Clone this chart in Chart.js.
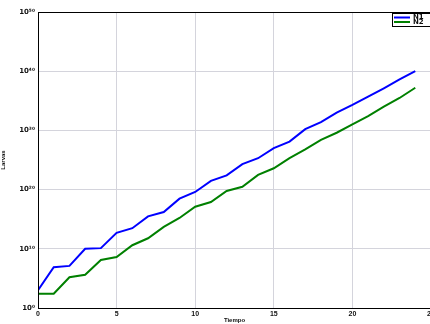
<!DOCTYPE html>
<html>
<head>
<meta charset="utf-8">
<script src="https://cdn.jsdelivr.net/npm/chart.js@4/dist/chart.umd.min.js"></script>
<style>
  html, body { margin: 0; padding: 0; background: #fff; overflow: hidden; }
  #wrap { position: relative; width: 450px; height: 324px; }
</style>
</head>
<body>
<div id="wrap"><canvas id="chart"></canvas></div>
<script>
// time steps and the two series (log axis)
var tiempo = [0, 1, 2, 3, 4, 5, 6, 7, 8, 9, 10, 11, 12, 13, 14, 15, 16, 17, 18, 19, 20, 21, 22, 23, 24];
var serieAzul = [1e3, 8e6, 1.3e7, 1e10, 1.3e10, 5e12, 3e13, 3e15, 1.6e16, 3e18, 4e19, 3e21, 2.5e22,
  2e24, 2e25, 1e27, 1.3e28, 1.6e30, 2.5e31, 1e33, 2e34, 5e35, 1.3e37, 4e38, 1e40];
var serieVerde = [2.5e2, 2.5e2, 1.6e5, 4e5, 1.3e8, 4e8, 4e10, 6e11, 5e13, 1.6e15, 1.3e17, 8e17, 6e19,
  3e20, 3e22, 4e23, 2e25, 6e26, 2.5e28, 4e29, 1e31, 2.5e32, 1e34, 3e35, 1.6e37];
var etiquetas = ["N1", "N2"];
var yTicks = [1, 1e10, 1e20, 1e30, 1e40, 1e50];
var xTicks = [0, 5, 10, 15, 20, 25];

var sup = { "0": "\u2070", "1": "\u00b9", "2": "\u00b2", "3": "\u00b3", "4": "\u2074", "5": "\u2075",
  "6": "\u2076", "7": "\u2077", "8": "\u2078", "9": "\u2079" };
function pot10(v) {
  var e = String(Math.round(Math.log10(v)));
  return "10" + e.split("").map(function (c) { return sup[c]; }).join("");
}

function pts(ys) {
  return tiempo.map(function (t, i) { return { x: t, y: ys[i] }; });
}

// black box round the axes plus a matlab-ish legend in the top right corner
var boxPlugin = {
  id: "box",
  afterDraw: function (chart) {
    var c = chart.ctx, a = chart.chartArea;
    c.save();
    c.strokeStyle = "#000";
    c.lineWidth = 1;
    c.strokeRect(a.left + 0.5, a.top + 0.5, a.right - a.left, a.bottom - a.top);
    var lx = a.right - 39, ly = a.top + 1;
    c.fillStyle = "#fff";
    c.fillRect(lx, ly, 60, 13);
    c.strokeRect(lx + 0.5, ly + 0.5, 60, 13);
    var cols = ["#0000ff", "#008000"];
    c.font = "bold 7px 'DejaVu Sans', Arial";
    c.textBaseline = "middle";
    for (var i = 0; i < 2; i++) {
      var yy = ly + 4.5 + i * 4.5;
      c.strokeStyle = cols[i];
      c.lineWidth = 2;
      c.beginPath();
      c.moveTo(lx + 2, yy);
      c.lineTo(lx + 18, yy);
      c.stroke();
      c.fillStyle = "#111";
      c.fillText(etiquetas[i], lx + 21, yy);
    }
    c.restore();
  }
};

new Chart(document.getElementById("chart"), {
  type: "line",
  data: {
    datasets: [
      { label: etiquetas[0], data: pts(serieAzul), borderColor: "#0000ff", borderWidth: 2, pointRadius: 0, tension: 0 },
      { label: etiquetas[1], data: pts(serieVerde), borderColor: "#008000", borderWidth: 2, pointRadius: 0, tension: 0 }
    ]
  },
  options: {
    responsive: true,
    maintainAspectRatio: false,
    animation: false,
    layout: { padding: { left: 0, top: 12, right: 19, bottom: 0 } },
    plugins: { legend: { display: false }, tooltip: { enabled: false } },
    scales: {
      x: {
        type: "linear",
        min: 0,
        max: 25,
        afterBuildTicks: function (s) { s.ticks = xTicks.map(function (v) { return { value: v }; }); },
        afterFit: function (s) { s.height = 16; },
        grid: { color: "#d4d4dc", drawTicks: false },
        border: { color: "#000" },
        ticks: { padding: 2, maxRotation: 0, color: "#111", font: { size: 7, weight: "bold", family: "'Liberation Sans', Arial" } },
        title: { display: true, text: "Tiempo", padding: 0, color: "#111", font: { size: 6, weight: "bold", family: "'Liberation Sans', Arial" } }
      },
      y: {
        type: "logarithmic",
        min: 1,
        max: 1e50,
        afterBuildTicks: function (s) { s.ticks = yTicks.map(function (v) { return { value: v }; }); },
        afterFit: function (s) { s.width = 38; },
        grid: { color: "#d4d4dc", drawTicks: false },
        border: { color: "#000" },
        ticks: {
          padding: 3,
          color: "#111",
          font: { size: 7, weight: "bold", family: "'DejaVu Sans', Arial" },
          callback: function (v) { return pot10(v); }
        },
        title: { display: true, text: "Larvas", padding: 0, color: "#111", font: { size: 6, weight: "bold", family: "'Liberation Sans', Arial" } }
      }
    }
  },
  plugins: [boxPlugin]
});
</script>
</body>
</html>
